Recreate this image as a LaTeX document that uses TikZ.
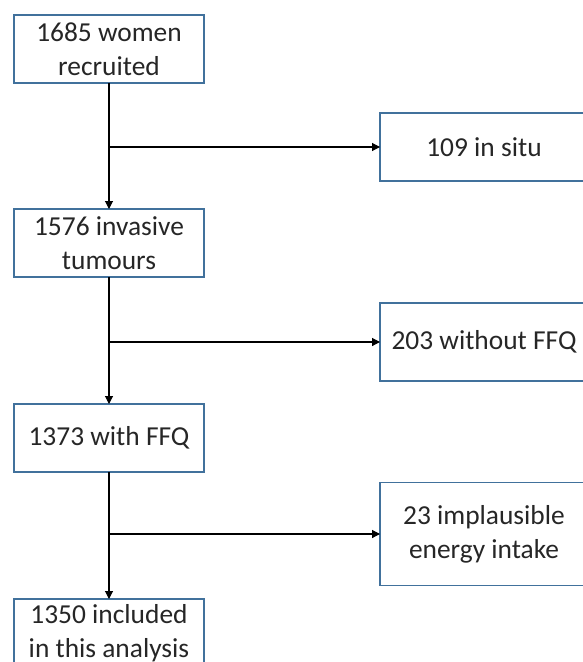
\documentclass[tikz,border=0pt]{standalone}
\usepackage{fontspec}
\setmainfont{Carlito}
\usetikzlibrary{arrows.meta}

\begin{document}
\begin{tikzpicture}[x=0.02cm,y=-0.02cm,
  box/.style={draw=boxblue,line width=0.8pt,align=center,inner sep=0pt,outer sep=0pt,
    font=\fontsize{15.6}{19.4}\selectfont,text=black!85},
  lbox/.style={box,minimum width=3.8cm,minimum height=1.36cm},
  rbox/.style={box,minimum width=4.16cm},
  flow/.style={line width=0.6pt,-{Triangle[length=4.5pt,width=4.5pt]}}]
  \definecolor{boxblue}{RGB}{65,113,156}
  \useasboundingbox (0,0) rectangle (582,662);
  \node[lbox] (women) at (109,49) {1685 women\\recruited};
  \node[lbox] (invasive) at (109,243) {1576 invasive\\tumours};
  \node[lbox] (ffq) at (109,438) {1373 with FFQ};
  \node[lbox] (incl) at (109,633) {1350 included\\in this analysis};
  \node[rbox,minimum height=1.36cm] (situ) at (484,147) {109 in situ};
  \node[rbox,minimum height=1.56cm] (noffq) at (484,342) {203 without FFQ};
  \node[rbox,minimum height=2.06cm] (implaus) at (484,534) {23 implausible\\energy intake};
  \coordinate (s1) at (women.south |- situ.west);
  \coordinate (s2) at (invasive.south |- noffq.west);
  \coordinate (s3) at (ffq.south |- implaus.west);
  \draw[flow] (women) -- (invasive);
  \draw[flow] (invasive) -- (ffq);
  \draw[flow] (ffq) -- (incl);
  \draw[flow] (s1) -- (situ);
  \draw[flow] (s2) -- (noffq);
  \draw[flow] (s3) -- (implaus);
\end{tikzpicture}
\end{document}
